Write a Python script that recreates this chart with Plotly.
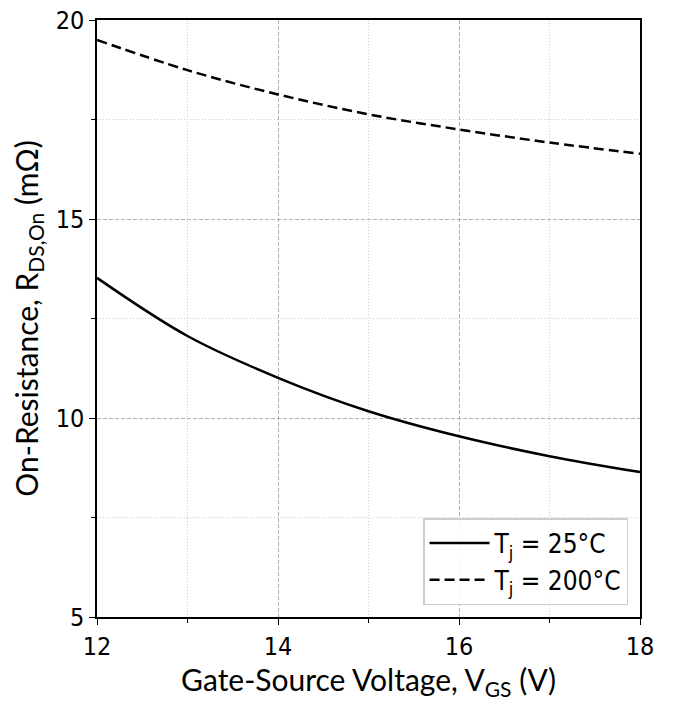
import plotly.graph_objects as go

vgs = [12, 13, 14, 15, 16, 17, 18]
r_25 = [13.52, 12.06, 11.01, 10.17, 9.54, 9.04, 8.64]
r_200 = [19.50, 18.74, 18.13, 17.63, 17.25, 16.92, 16.64]
x_ticks = [12, 14, 16, 18]
x_minor = [13, 15, 17]
y_ticks = [5, 10, 15, 20]
y_minor = [7.5, 12.5, 17.5]

narrow = "DejaVu Sans Condensed, Roboto, sans-serif"
tick_font = dict(family=narrow, size=25, color="black")
title_font = dict(family="Lato, sans-serif", size=30, color="black")

fig = go.Figure()
fig.add_trace(go.Scatter(x=vgs, y=r_25, mode="lines", line=dict(color="black", width=2.5, shape="spline"),
                         name="T<sub>j</sub> = 25°C"))
fig.add_trace(go.Scatter(x=vgs, y=r_200, mode="lines",
                         line=dict(color="black", width=2.5, dash="10px,5px", shape="spline"),
                         name="T<sub>j</sub> = 200°C"))

axis_common = dict(
    showline=True, linecolor="black", linewidth=1.5, mirror=True,
    ticks="outside", ticklen=6, tickwidth=1.2, tickcolor="black",
    showgrid=True, gridcolor="#b0b0b0", griddash="4px,2px", gridwidth=1,
    zeroline=False, tickfont=tick_font, automargin=False,
)

fig.update_xaxes(range=[12, 18], tickvals=x_ticks,
                 minor=dict(tickvals=x_minor, showgrid=True, gridcolor="#cccccc", griddash="1px,2px",
                            ticks="outside", ticklen=4, tickcolor="black"),
                 title_text="Gate-Source Voltage, V<sub>GS</sub> (V)", title_standoff=12,
                 title_font=dict(family="Lato, sans-serif", size=30, color="black"),
                 **axis_common)
fig.update_yaxes(range=[5, 20], tickvals=y_ticks,
                 minor=dict(tickvals=y_minor, showgrid=True, gridcolor="#cccccc", griddash="1px,2px",
                            ticks="outside", ticklen=4, tickcolor="black"),
                 title_text="On-Resistance, R<sub>DS,On</sub> (mΩ)", title_standoff=8,
                 title_font=title_font,
                 **axis_common)

fig.update_layout(
    width=673, height=701,
    margin=dict(l=97, r=33, t=20, b=84),
    plot_bgcolor="white", paper_bgcolor="white",
    legend=dict(x=0.978, y=0.02, xanchor="right", yanchor="bottom",
                bgcolor="rgba(255,255,255,0.9)", bordercolor="#cccccc", borderwidth=1.5,
                font=dict(family=narrow, size=26, color="black"),
                itemwidth=60, tracegroupgap=6),
)

fig.write_html("out.html", config={"displayModeBar": False},
               post_script="document.body.style.margin='0';")
